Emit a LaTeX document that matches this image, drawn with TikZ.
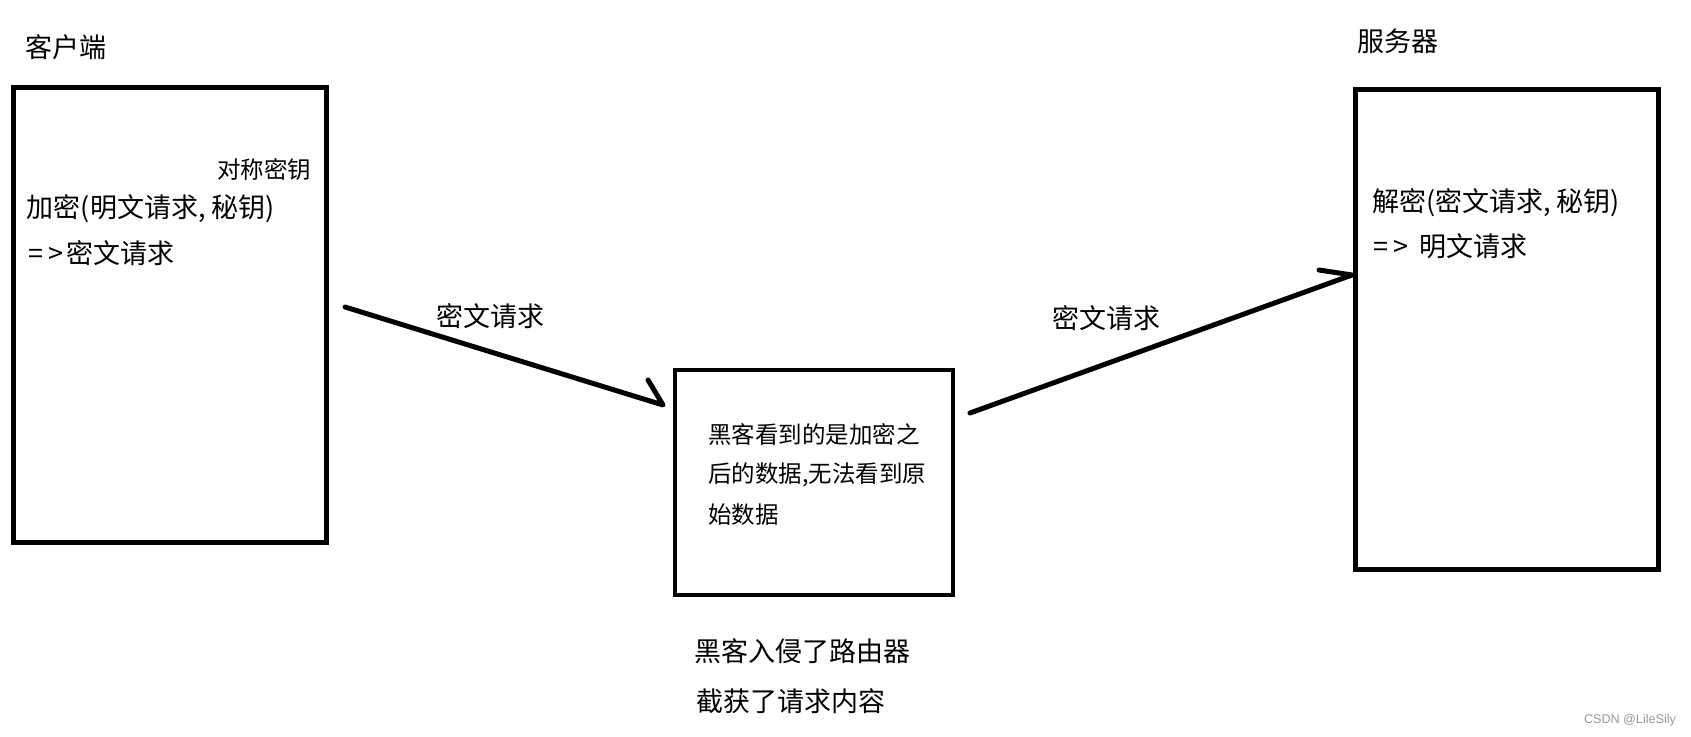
\documentclass[tikz,border=0pt]{standalone}
\usepackage{fontspec}
\setmainfont{Noto Sans CJK SC}
\newfontfamily\wmfont{Liberation Sans}
\begin{document}
\begin{tikzpicture}[x=1pt,y=-1pt,
  box/.style={draw,line width=5pt,inner sep=0pt,outer sep=0pt},
  txt/.style={anchor=base west,inner sep=0pt,outer sep=0pt,font=\fontsize{27}{27}\selectfont},
  small/.style={txt,font=\fontsize{23.5}{23.5}\selectfont},
  wm/.style={anchor=base west,inner sep=0pt,outer sep=0pt,text=black!40,font=\wmfont\fontsize{12.6}{12.6}\selectfont},
  conn/.style={line width=5pt,line cap=round,line join=round}]
\fill[white] (0,0) rectangle (1691,736);
\useasboundingbox (0,0) rectangle (1691,736);
% boxes
\node[box,minimum width=313pt,minimum height=455pt] (client) at (170,315) {};
\node[box,line width=4.5pt,minimum width=278pt,minimum height=225pt] (router) at (814,482.5) {};
\node[box,minimum width=303pt,minimum height=480pt] (server) at (1507,329.5) {};
% client texts
\node[txt] (clientlabel) at (25.5,57) {客户端};
\node[small] (key) at (217,178.5) {对称密钥};
\node[txt] (enc1) at (27,217) {加密(明文请求, 秘钥)};
\node[txt] (enc2) at (28,263) {=\kern6pt>\kern3pt密文请求};
% router texts
\node[small] (r1) at (708,443.5) {黑客看到的是加密之};
\node[small] (r2) at (708,482.5) {后的数据,无法看到原};
\node[small] (r3) at (708,523) {始数据};
\node[txt] (b1) at (694,661) {黑客入侵了路由器};
\node[txt] (b2) at (696,711) {截获了请求内容};
% server texts
\node[txt] (serverlabel) at (1357,51) {服务器};
\node[txt] (dec1) at (1372,211) {解密(密文请求, 秘钥)};
\node[txt] (dec2) at (1373,256) {=\kern6pt>\kern11pt明文请求};
% arrow labels
\node[txt] (lab1) at (436,326) {密文请求};
\node[txt] (lab2) at (1052,328) {密文请求};
% connectors
\coordinate (a1s) at (345,307);
\coordinate (a1e) at (663,405);
\coordinate (a1b) at (648,380);
\coordinate (a2s) at (970,413);
\coordinate (a2e) at (1352,275);
\coordinate (a2b) at (1319,270);
\draw[conn] (a1s) -- (a1e) -- (a1b);
\draw[conn] (a2s) -- (a2e) -- (a2b);
% watermark
\node[wm] (mark) at (1584,723) {CSDN @LileSily};
\end{tikzpicture}
\end{document}
